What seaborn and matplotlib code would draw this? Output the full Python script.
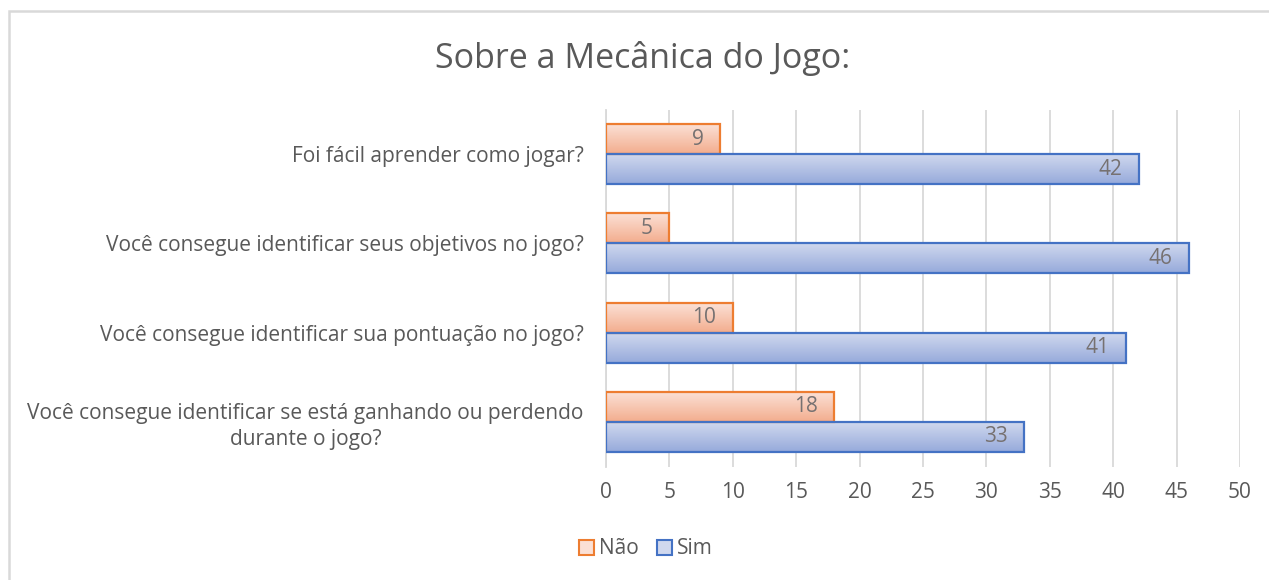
import matplotlib
matplotlib.use("Agg")
import matplotlib.pyplot as plt
import seaborn as sns
import pandas as pd
import numpy as np
from matplotlib.patches import Rectangle
from matplotlib.colors import LinearSegmentedColormap

categories = [
    "Foi fácil aprender como jogar?",
    "Você consegue identificar seus objetivos no jogo?",
    "Você consegue identificar sua pontuação no jogo?",
    "Você consegue identificar se está ganhando ou perdendo\ndurante o jogo?",
]
nao = [9, 5, 10, 18]
sim = [42, 46, 41, 33]
series = ["Não", "Sim"]
xticks = [0, 5, 10, 15, 20, 25, 30, 35, 40, 45, 50]

df = pd.DataFrame({
    "pergunta": categories * 2,
    "valor": nao + sim,
    "resposta": [series[0]] * len(categories) + [series[1]] * len(categories),
})

sns.set_theme(style="white")
plt.rcParams["font.family"] = ["Open Sans", "DejaVu Sans"]
TXT = "#595959"
FS = 15

fig = plt.figure(figsize=(12.69, 5.80), dpi=100)
ax = fig.add_axes([606 / 1269, 1 - 466.5 / 580, (1240 - 606) / 1269, (466.5 - 109.5) / 580])

edge = {"Não": "#ED7D31", "Sim": "#4472C4"}
grad = {"Não": ("#FBE0D5", "#F3AD8E"), "Sim": ("#D0D8EE", "#96AADB")}

sns.barplot(data=df, y="pergunta", x="valor", hue="resposta", hue_order=series,
            order=categories, orient="h", width=0.67, gap=0, ax=ax,
            palette=edge, legend=False, saturation=1)

ax.set_xlim(0, 50)
ax.set_xticks(xticks)
ax.set_xticklabels([str(t) for t in xticks])
ax.grid(axis="x", color="#D9D9D9", linewidth=1.3)
ax.grid(axis="y", visible=False)
ax.set_axisbelow(True)
for s in ["top", "right", "bottom"]:
    ax.spines[s].set_visible(False)
ax.spines["left"].set_color("#D9D9D9")
ax.spines["left"].set_linewidth(1.3)
ax.set_xlabel("")
ax.set_ylabel("")
ax.tick_params(axis="x", length=0, pad=11, labelsize=FS, labelcolor=TXT)
ax.tick_params(axis="y", length=0, pad=16, labelsize=FS, labelcolor=TXT)
for lab in ax.get_yticklabels():
    lab.set_horizontalalignment("right")
    lab.set_multialignment("center")
    lab.set_linespacing(1.3)

# gradient fills and value labels
for container, name in zip(ax.containers, series):
    c0, c1 = grad[name]
    cmap = LinearSegmentedColormap.from_list(name, [c0, c1])
    for patch in container.patches:
        x0, y0 = patch.get_x(), patch.get_y()
        w, h = patch.get_width(), patch.get_height()
        patch.set_facecolor("none")
        patch.set_edgecolor(edge[name])
        patch.set_linewidth(1.6)
        patch.set_zorder(3)
        img = ax.imshow(np.linspace(0, 1, 64).reshape(-1, 1), cmap=cmap,
                        extent=[x0, x0 + w, y0 + h, y0], aspect="auto",
                        origin="upper", zorder=2)
        img.set_clip_path(patch)
    texts = ax.bar_label(container, padding=-12, label_type="edge", color="#767171",
                         fontsize=FS, zorder=4)
    for t in texts:
        t.set_horizontalalignment("right")
ax.set_xlim(0, 50)
ax.set_ylim(len(categories) - 0.5, -0.5)

fig.text(643 / 1269, 1 - 59 / 580, "Sobre a Mecânica do Jogo:", ha="center", va="center",
         fontsize=24.5, color=TXT)

handles = [Rectangle((0, 0), 1, 1, facecolor=grad[n][0], edgecolor=edge[n], linewidth=1.5) for n in series]
fig.legend(handles, series, loc="center", bbox_to_anchor=(646 / 1269, 1 - 549 / 580),
           ncol=2, frameon=False, fontsize=FS, labelcolor=TXT, handlelength=0.7,
           handleheight=0.7, handletextpad=0.25, columnspacing=0.9)

fig.patches.append(Rectangle((9 / 1269, -0.1), 1.2, 1 - 11 / 580 + 0.1, transform=fig.transFigure,
                             fill=False, edgecolor="#D9D9D9", linewidth=1.8))

fig.savefig("out.png", dpi=100)
